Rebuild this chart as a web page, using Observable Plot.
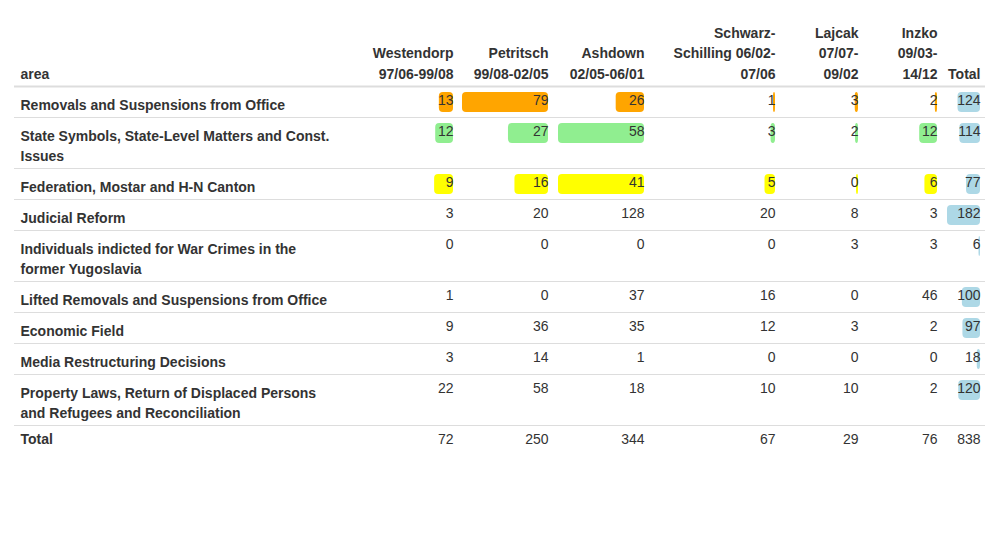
<!DOCTYPE html>
<html>
<head>
<meta charset="utf-8">
<script src="https://cdn.jsdelivr.net/npm/d3@7"></script>
<script src="https://cdn.jsdelivr.net/npm/@observablehq/plot@0.6"></script>
<style>body{margin:0;background:#fff}</style>
</head>
<body>
<div id="tabla"></div>
<script>
// data
const areas = [
  "Removals and Suspensions from Office",
  "State Symbols, State-Level Matters and Const.\nIssues",
  "Federation, Mostar and H-N Canton",
  "Judicial Reform",
  "Individuals indicted for War Crimes in the\nformer Yugoslavia",
  "Lifted Removals and Suspensions from Office",
  "Economic Field",
  "Media Restructuring Decisions",
  "Property Laws, Return of Displaced Persons\nand Refugees and Reconciliation"
];
const headers = ["Westendorp\n97/06-99/08", "Petritsch\n99/08-02/05", "Ashdown\n02/05-06/01",
  "Schwarz-\nSchilling 06/02-\n07/06", "Lajcak\n07/07-\n09/02", "Inzko\n09/03-\n14/12"];
const westendorp = [13, 12, 9, 3, 0, 1, 9, 3, 22];
const petritsch = [79, 27, 16, 20, 0, 0, 36, 14, 58];
const ashdown = [26, 58, 41, 128, 0, 37, 35, 1, 18];
const schwarz = [1, 3, 5, 20, 0, 16, 12, 0, 10];
const lajcak = [3, 2, 0, 8, 3, 0, 3, 0, 10];
const inzko = [2, 12, 6, 3, 3, 46, 2, 0, 2];
const totals = [124, 114, 77, 182, 6, 100, 97, 18, 120];
const colTotals = [72, 250, 344, 67, 29, 76, 838];
const rowColors = ["#FFA500", "#90EE90", "#FFFF00"]; // only first 3 rows get bars

// layout
const cols = [westendorp, petritsch, ashdown, schwarz, lajcak, inzko];
const colRight = [453, 548, 644, 775, 858, 937];
const totalRight = 980;
const headBottom = 86;
const barMax = 86, totalBarMax = 33;

let yPos = headBottom;
const rows = areas.map((a, i) => {
  const lines = a.split("\n").length;
  const r = {area: a, i, top: yPos, h: 11 + 20 * lines};
  yPos += r.h;
  return r;
});
const totalRowTop = yPos;

const cells = [], bars = [];
rows.forEach(r => {
  const rowVals = cols.map(c => c[r.i]);
  const rmax = d3.max(rowVals);
  rowVals.forEach((v, j) => {
    cells.push({x: colRight[j], y: r.top + 6, v});
    if (r.i < 3) bars.push({x2: colRight[j], w: Math.max(2, v / rmax * barMax), y: r.top + 6, c: rowColors[r.i]});
  });
  cells.push({x: totalRight, y: r.top + 6, v: totals[r.i]});
  bars.push({x2: totalRight, w: Math.max(1.5, totals[r.i] / d3.max(totals) * totalBarMax), y: r.top + 6, c: "#ADD8E6"});
});
colTotals.forEach((v, j) => cells.push({x: j < 6 ? colRight[j] : totalRight, y: totalRowTop + 6, v}));

const heads = headers.map((h, j) => ({x: colRight[j], t: h}))
  .concat([{x: totalRight, t: "Total"}]);

const chart = Plot.plot({
  width: 998, height: 548, margin: 0,
  x: {domain: [0, 998], range: [0, 998], axis: null},
  y: {domain: [0, 548], range: [0, 548], axis: null},
  style: {fontFamily: "Liberation Sans, Arial, sans-serif", fontSize: "14px", color: "#333"},
  marks: [
    Plot.ruleY([headBottom], {x1: 14, x2: 985, stroke: "#ddd", strokeWidth: 2}),
    Plot.ruleY(rows.map(r => r.top + r.h), {x1: 14, x2: 985, stroke: "#ddd", strokeWidth: 1}),
    Plot.rect(bars, {x1: d => d.x2 - d.w, x2: "x2", y1: "y", y2: d => d.y + 20, fill: "c", rx: 4}),
    Plot.text(heads, {x: "x", y: headBottom - 8, text: "t", textAnchor: "end", lineAnchor: "bottom",
      lineHeight: 1.43, fontWeight: "bold", fill: "#333"}),
    Plot.text(["area"], {x: 20, y: headBottom - 8, text: d => d, textAnchor: "start", lineAnchor: "bottom",
      fontWeight: "bold", fill: "#333"}),
    Plot.text(rows, {x: 20, y: d => d.top + 6, text: "area", textAnchor: "start", lineAnchor: "top",
      lineHeight: 1.43, fontWeight: "bold", fill: "#333", dy: 3}),
    Plot.text(["Total"], {x: 20, y: totalRowTop + 6, text: d => d, textAnchor: "start", lineAnchor: "top",
      fontWeight: "bold", fill: "#333", dy: 3}),
    Plot.text(cells, {x: "x", y: "y", text: "v", textAnchor: "end", lineAnchor: "top", fill: "#333", dy: 3})
  ]
});
d3.select("#tabla").append(() => chart);
</script>
</body>
</html>
